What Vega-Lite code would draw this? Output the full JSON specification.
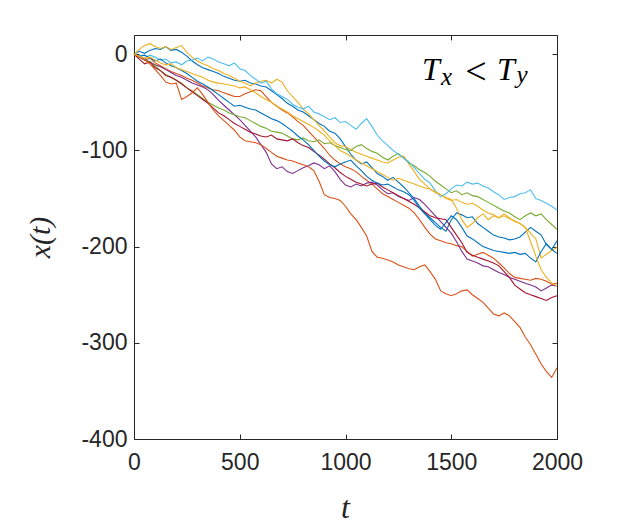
{
  "$schema": "https://vega.github.io/schema/vega-lite/v6.json",
  "width": 423,
  "height": 404,
  "autosize": "none",
  "padding": {"left": 134, "top": 35, "right": 60, "bottom": 84},
  "background": "white",
  "config": {
    "view": {"stroke": null},
    "axis": {
      "grid": false,
      "domainColor": "#262626",
      "domainWidth": 1,
      "tickColor": "#262626",
      "tickWidth": 1,
      "tickSize": -5,
      "labelFont": "Liberation Sans",
      "labelFontSize": 23,
      "labelColor": "#262626",
      "labelFlush": false,
      "labelOverlap": false,
      "titleFont": "Liberation Serif",
      "titleFontStyle": "italic",
      "titleFontWeight": "normal",
      "titleColor": "#262626"
    }
  },
  "resolve": {"axis": {"x": "independent", "y": "independent"}},
  "layer": [
    {
      "data": {
        "values": [
          {"t": 0, "r1": 0, "r2": 0, "r3": 0, "r4": 0, "r5": 0, "r6": 0, "r7": 0, "r8": 0, "r9": 0, "r10": 0},
          {"t": 25, "r1": 3, "r2": -2, "r3": 5, "r4": -3, "r5": -3, "r6": -2, "r7": -5, "r8": -2, "r9": -3, "r10": -2},
          {"t": 50, "r1": 1, "r2": -6, "r3": 9, "r4": -5, "r5": -6, "r6": -4, "r7": -10, "r8": -1, "r9": -6, "r10": -4},
          {"t": 75, "r1": 4, "r2": -4, "r3": 11, "r4": -8, "r5": -8, "r6": -1, "r7": -8, "r8": -4, "r9": -10, "r10": -3},
          {"t": 100, "r1": 6, "r2": -9, "r3": 8, "r4": -11, "r5": -12, "r6": -3, "r7": -14, "r8": -7, "r9": -16, "r10": -6},
          {"t": 125, "r1": 5, "r2": -12, "r3": 6, "r4": -13, "r5": -17, "r6": -6, "r7": -17, "r8": -5, "r9": -22, "r10": -9},
          {"t": 150, "r1": 8, "r2": -15, "r3": 8, "r4": -16, "r5": -21, "r6": -5, "r7": -22, "r8": -9, "r9": -29, "r10": -11},
          {"t": 175, "r1": 4, "r2": -18, "r3": 5, "r4": -19, "r5": -24, "r6": -9, "r7": -24, "r8": -12, "r9": -31, "r10": -10},
          {"t": 200, "r1": 5, "r2": -20, "r3": 7, "r4": -22, "r5": -27, "r6": -8, "r7": -27, "r8": -14, "r9": -30, "r10": -14},
          {"t": 225, "r1": 2, "r2": -22, "r3": 9, "r4": -24, "r5": -30, "r6": -11, "r7": -31, "r8": -17, "r9": -47, "r10": -16},
          {"t": 250, "r1": -2, "r2": -25, "r3": 2, "r4": -27, "r5": -35, "r6": -7, "r7": -35, "r8": -20, "r9": -44, "r10": -18},
          {"t": 275, "r1": -7, "r2": -27, "r3": -3, "r4": -30, "r5": -38, "r6": -6, "r7": -39, "r8": -24, "r9": -40, "r10": -20},
          {"t": 300, "r1": -11, "r2": -30, "r3": -7, "r4": -32, "r5": -42, "r6": -4, "r7": -43, "r8": -28, "r9": -35, "r10": -22},
          {"t": 325, "r1": -14, "r2": -33, "r3": -10, "r4": -34, "r5": -46, "r6": -7, "r7": -47, "r8": -31, "r9": -42, "r10": -24},
          {"t": 350, "r1": -16, "r2": -35, "r3": -12, "r4": -37, "r5": -50, "r6": -3, "r7": -51, "r8": -34, "r9": -50, "r10": -27},
          {"t": 375, "r1": -18, "r2": -37, "r3": -15, "r4": -42, "r5": -53, "r6": -5, "r7": -56, "r8": -38, "r9": -58, "r10": -29},
          {"t": 400, "r1": -20, "r2": -38, "r3": -17, "r4": -48, "r5": -56, "r6": -8, "r7": -61, "r8": -42, "r9": -64, "r10": -30},
          {"t": 425, "r1": -23, "r2": -40, "r3": -20, "r4": -53, "r5": -58, "r6": -10, "r7": -64, "r8": -46, "r9": -69, "r10": -31},
          {"t": 450, "r1": -25, "r2": -42, "r3": -22, "r4": -58, "r5": -61, "r6": -12, "r7": -68, "r8": -50, "r9": -74, "r10": -32},
          {"t": 475, "r1": -27, "r2": -44, "r3": -25, "r4": -63, "r5": -63, "r6": -9, "r7": -72, "r8": -54, "r9": -79, "r10": -33},
          {"t": 500, "r1": -28, "r2": -44, "r3": -28, "r4": -68, "r5": -65, "r6": -15, "r7": -75, "r8": -53, "r9": -86, "r10": -35},
          {"t": 525, "r1": -27, "r2": -41, "r3": -30, "r4": -74, "r5": -66, "r6": -17, "r7": -78, "r8": -55, "r9": -90, "r10": -34},
          {"t": 550, "r1": -30, "r2": -39, "r3": -33, "r4": -80, "r5": -69, "r6": -22, "r7": -81, "r8": -57, "r9": -91, "r10": -37},
          {"t": 575, "r1": -31, "r2": -37, "r3": -30, "r4": -86, "r5": -72, "r6": -26, "r7": -83, "r8": -58, "r9": -92, "r10": -40},
          {"t": 600, "r1": -33, "r2": -38, "r3": -28, "r4": -94, "r5": -75, "r6": -30, "r7": -85, "r8": -61, "r9": -94, "r10": -44},
          {"t": 625, "r1": -34, "r2": -44, "r3": -27, "r4": -102, "r5": -77, "r6": -28, "r7": -86, "r8": -64, "r9": -98, "r10": -47},
          {"t": 650, "r1": -38, "r2": -50, "r3": -30, "r4": -114, "r5": -80, "r6": -36, "r7": -84, "r8": -67, "r9": -102, "r10": -50},
          {"t": 675, "r1": -42, "r2": -54, "r3": -26, "r4": -119, "r5": -81, "r6": -41, "r7": -88, "r8": -69, "r9": -106, "r10": -54},
          {"t": 700, "r1": -46, "r2": -58, "r3": -29, "r4": -117, "r5": -82, "r6": -44, "r7": -89, "r8": -72, "r9": -108, "r10": -57},
          {"t": 725, "r1": -51, "r2": -61, "r3": -38, "r4": -122, "r5": -85, "r6": -47, "r7": -90, "r8": -76, "r9": -110, "r10": -60},
          {"t": 750, "r1": -54, "r2": -65, "r3": -44, "r4": -124, "r5": -88, "r6": -52, "r7": -88, "r8": -80, "r9": -111, "r10": -64},
          {"t": 775, "r1": -58, "r2": -70, "r3": -50, "r4": -121, "r5": -89, "r6": -55, "r7": -92, "r8": -85, "r9": -113, "r10": -67},
          {"t": 800, "r1": -60, "r2": -74, "r3": -57, "r4": -118, "r5": -87, "r6": -57, "r7": -95, "r8": -89, "r9": -115, "r10": -70},
          {"t": 825, "r1": -64, "r2": -80, "r3": -62, "r4": -116, "r5": -90, "r6": -54, "r7": -97, "r8": -94, "r9": -117, "r10": -73},
          {"t": 850, "r1": -68, "r2": -86, "r3": -68, "r4": -113, "r5": -91, "r6": -60, "r7": -101, "r8": -100, "r9": -121, "r10": -76},
          {"t": 875, "r1": -72, "r2": -92, "r3": -74, "r4": -115, "r5": -89, "r6": -62, "r7": -105, "r8": -106, "r9": -132, "r10": -80},
          {"t": 900, "r1": -75, "r2": -98, "r3": -80, "r4": -119, "r5": -93, "r6": -65, "r7": -109, "r8": -111, "r9": -146, "r10": -84},
          {"t": 925, "r1": -80, "r2": -105, "r3": -86, "r4": -116, "r5": -92, "r6": -68, "r7": -114, "r8": -115, "r9": -149, "r10": -90},
          {"t": 950, "r1": -82, "r2": -110, "r3": -92, "r4": -122, "r5": -95, "r6": -66, "r7": -118, "r8": -117, "r9": -150, "r10": -95},
          {"t": 975, "r1": -88, "r2": -114, "r3": -95, "r4": -130, "r5": -97, "r6": -71, "r7": -123, "r8": -114, "r9": -152, "r10": -100},
          {"t": 1000, "r1": -96, "r2": -117, "r3": -96, "r4": -136, "r5": -99, "r6": -70, "r7": -127, "r8": -112, "r9": -158, "r10": -103},
          {"t": 1025, "r1": -104, "r2": -119, "r3": -99, "r4": -138, "r5": -100, "r6": -74, "r7": -130, "r8": -110, "r9": -166, "r10": -106},
          {"t": 1050, "r1": -110, "r2": -122, "r3": -102, "r4": -135, "r5": -96, "r6": -78, "r7": -133, "r8": -116, "r9": -172, "r10": -110},
          {"t": 1075, "r1": -114, "r2": -127, "r3": -104, "r4": -137, "r5": -94, "r6": -72, "r7": -135, "r8": -121, "r9": -180, "r10": -113},
          {"t": 1100, "r1": -112, "r2": -131, "r3": -106, "r4": -134, "r5": -98, "r6": -67, "r7": -137, "r8": -127, "r9": -189, "r10": -116},
          {"t": 1125, "r1": -118, "r2": -135, "r3": -108, "r4": -133, "r5": -101, "r6": -75, "r7": -135, "r8": -131, "r9": -205, "r10": -119},
          {"t": 1150, "r1": -124, "r2": -140, "r3": -110, "r4": -136, "r5": -103, "r6": -84, "r7": -134, "r8": -134, "r9": -211, "r10": -122},
          {"t": 1175, "r1": -127, "r2": -145, "r3": -112, "r4": -141, "r5": -107, "r6": -90, "r7": -138, "r8": -136, "r9": -212, "r10": -125},
          {"t": 1200, "r1": -131, "r2": -148, "r3": -113, "r4": -145, "r5": -110, "r6": -95, "r7": -141, "r8": -135, "r9": -214, "r10": -128},
          {"t": 1225, "r1": -128, "r2": -151, "r3": -110, "r4": -144, "r5": -106, "r6": -100, "r7": -144, "r8": -138, "r9": -216, "r10": -131},
          {"t": 1250, "r1": -133, "r2": -154, "r3": -107, "r4": -148, "r5": -103, "r6": -104, "r7": -147, "r8": -141, "r9": -219, "r10": -129},
          {"t": 1275, "r1": -138, "r2": -157, "r3": -106, "r4": -150, "r5": -108, "r6": -108, "r7": -150, "r8": -143, "r9": -221, "r10": -131},
          {"t": 1300, "r1": -144, "r2": -160, "r3": -114, "r4": -152, "r5": -113, "r6": -112, "r7": -153, "r8": -146, "r9": -223, "r10": -133},
          {"t": 1325, "r1": -150, "r2": -165, "r3": -122, "r4": -149, "r5": -116, "r6": -118, "r7": -156, "r8": -152, "r9": -224, "r10": -135},
          {"t": 1350, "r1": -158, "r2": -172, "r3": -130, "r4": -151, "r5": -120, "r6": -124, "r7": -160, "r8": -160, "r9": -221, "r10": -137},
          {"t": 1375, "r1": -165, "r2": -180, "r3": -135, "r4": -156, "r5": -123, "r6": -130, "r7": -164, "r8": -166, "r9": -219, "r10": -139},
          {"t": 1400, "r1": -170, "r2": -187, "r3": -140, "r4": -162, "r5": -127, "r6": -134, "r7": -168, "r8": -172, "r9": -226, "r10": -140},
          {"t": 1425, "r1": -175, "r2": -192, "r3": -144, "r4": -168, "r5": -132, "r6": -142, "r7": -170, "r8": -178, "r9": -234, "r10": -143},
          {"t": 1450, "r1": -180, "r2": -194, "r3": -146, "r4": -174, "r5": -136, "r6": -148, "r7": -171, "r8": -182, "r9": -246, "r10": -146},
          {"t": 1475, "r1": -184, "r2": -196, "r3": -149, "r4": -180, "r5": -140, "r6": -145, "r7": -172, "r8": -175, "r9": -249, "r10": -150},
          {"t": 1500, "r1": -172, "r2": -197, "r3": -151, "r4": -186, "r5": -144, "r6": -140, "r7": -180, "r8": -168, "r9": -251, "r10": -152},
          {"t": 1525, "r1": -165, "r2": -199, "r3": -160, "r4": -195, "r5": -142, "r6": -136, "r7": -188, "r8": -172, "r9": -249, "r10": -151},
          {"t": 1550, "r1": -167, "r2": -200, "r3": -172, "r4": -205, "r5": -146, "r6": -137, "r7": -196, "r8": -180, "r9": -246, "r10": -154},
          {"t": 1575, "r1": -170, "r2": -205, "r3": -180, "r4": -213, "r5": -144, "r6": -133, "r7": -206, "r8": -189, "r9": -245, "r10": -156},
          {"t": 1600, "r1": -169, "r2": -210, "r3": -176, "r4": -215, "r5": -147, "r6": -135, "r7": -209, "r8": -192, "r9": -250, "r10": -155},
          {"t": 1625, "r1": -176, "r2": -208, "r3": -170, "r4": -217, "r5": -148, "r6": -134, "r7": -211, "r8": -196, "r9": -254, "r10": -158},
          {"t": 1650, "r1": -180, "r2": -206, "r3": -166, "r4": -220, "r5": -151, "r6": -137, "r7": -213, "r8": -200, "r9": -258, "r10": -162},
          {"t": 1675, "r1": -184, "r2": -209, "r3": -172, "r4": -221, "r5": -154, "r6": -139, "r7": -215, "r8": -202, "r9": -264, "r10": -165},
          {"t": 1700, "r1": -188, "r2": -212, "r3": -168, "r4": -224, "r5": -157, "r6": -143, "r7": -217, "r8": -204, "r9": -270, "r10": -167},
          {"t": 1725, "r1": -190, "r2": -217, "r3": -170, "r4": -227, "r5": -160, "r6": -146, "r7": -220, "r8": -205, "r9": -272, "r10": -170},
          {"t": 1750, "r1": -191, "r2": -222, "r3": -166, "r4": -229, "r5": -163, "r6": -151, "r7": -226, "r8": -206, "r9": -269, "r10": -168},
          {"t": 1775, "r1": -193, "r2": -228, "r3": -170, "r4": -232, "r5": -165, "r6": -149, "r7": -232, "r8": -207, "r9": -272, "r10": -171},
          {"t": 1800, "r1": -192, "r2": -232, "r3": -174, "r4": -234, "r5": -169, "r6": -148, "r7": -240, "r8": -206, "r9": -278, "r10": -173},
          {"t": 1825, "r1": -190, "r2": -233, "r3": -176, "r4": -236, "r5": -172, "r6": -145, "r7": -244, "r8": -208, "r9": -284, "r10": -176},
          {"t": 1850, "r1": -185, "r2": -234, "r3": -180, "r4": -238, "r5": -168, "r6": -144, "r7": -248, "r8": -207, "r9": -294, "r10": -180},
          {"t": 1875, "r1": -180, "r2": -235, "r3": -186, "r4": -240, "r5": -165, "r6": -141, "r7": -250, "r8": -212, "r9": -302, "r10": -195},
          {"t": 1900, "r1": -184, "r2": -233, "r3": -192, "r4": -242, "r5": -168, "r6": -150, "r7": -252, "r8": -216, "r9": -312, "r10": -210},
          {"t": 1925, "r1": -188, "r2": -234, "r3": -212, "r4": -246, "r5": -166, "r6": -152, "r7": -254, "r8": -205, "r9": -322, "r10": -224},
          {"t": 1950, "r1": -198, "r2": -236, "r3": -208, "r4": -243, "r5": -172, "r6": -155, "r7": -256, "r8": -197, "r9": -330, "r10": -232},
          {"t": 1975, "r1": -203, "r2": -239, "r3": -204, "r4": -240, "r5": -177, "r6": -158, "r7": -253, "r8": -203, "r9": -336, "r10": -238},
          {"t": 2000, "r1": -194, "r2": -238, "r3": -201, "r4": -241, "r5": -182, "r6": -162, "r7": -251, "r8": -207, "r9": -326, "r10": -241}
        ]
      },
      "transform": [
        {"fold": ["r1", "r2", "r3", "r4", "r5", "r6", "r7", "r8", "r9", "r10"], "as": ["run", "v"]}
      ],
      "mark": {"type": "line", "strokeWidth": 1.1},
      "encoding": {
        "x": {
          "field": "t",
          "type": "quantitative",
          "scale": {"domain": [0, 2000], "nice": false},
          "axis": {
            "orient": "bottom",
            "values": [0, 500, 1000, 1500, 2000],
            "labelExpr": "'' + datum.value",
            "labelPadding": 17,
            "labelBaseline": "top",
            "title": "t",
            "titleFontSize": 32,
            "titleX": 211,
            "titleY": 78,
            "titleAlign": "center",
            "titleBaseline": "alphabetic"
          }
        },
        "y": {
          "field": "v",
          "type": "quantitative",
          "scale": {"domain": [-400, 20], "nice": false, "zero": false},
          "axis": {
            "orient": "left",
            "values": [-400, -300, -200, -100, 0],
            "labelExpr": "'' + datum.value",
            "labelPadding": 12,
            "title": "x(t)",
            "titleFontSize": 30,
            "titleAngle": -90,
            "titleX": -94,
            "titleY": 202,
            "titleAlign": "center",
            "titleBaseline": "middle"
          }
        },
        "color": {
          "field": "run",
          "type": "nominal",
          "scale": {
            "domain": ["r1", "r2", "r3", "r4", "r5", "r6", "r7", "r8", "r9", "r10"],
            "range": ["#0072BD", "#D95319", "#EDB120", "#7E2F8E", "#77AC30", "#4DBEEE", "#A2142F", "#0072BD", "#D95319", "#EDB120"]
          },
          "legend": null
        }
      }
    },
    {
      "data": {"values": [{}]},
      "mark": {"type": "text", "text": "T", "font": "Liberation Serif", "fontStyle": "italic", "fontSize": 32, "align": "left", "baseline": "alphabetic", "color": "black"},
      "encoding": {
        "x": {"datum": 1362, "type": "quantitative", "axis": {"orient": "top", "values": [0, 500, 1000, 1500, 2000], "labels": false, "title": null}},
        "y": {"datum": -27, "type": "quantitative", "axis": {"orient": "right", "values": [-400, -300, -200, -100, 0], "labels": false, "title": null}}
      }
    },
    {
      "data": {"values": [{}]},
      "mark": {"type": "text", "text": "x", "font": "Liberation Serif", "fontStyle": "italic", "fontSize": 25, "align": "left", "baseline": "alphabetic", "color": "black"},
      "encoding": {
        "x": {"datum": 1452, "type": "quantitative", "axis": null},
        "y": {"datum": -32, "type": "quantitative", "axis": null}
      }
    },
    {
      "data": {"values": [{}]},
      "mark": {"type": "text", "text": "<", "font": "Liberation Serif", "fontSize": 38, "align": "left", "baseline": "alphabetic", "color": "black"},
      "encoding": {
        "x": {"datum": 1566, "type": "quantitative", "axis": null},
        "y": {"datum": -31, "type": "quantitative", "axis": null}
      }
    },
    {
      "data": {"values": [{}]},
      "mark": {"type": "text", "text": "T", "font": "Liberation Serif", "fontStyle": "italic", "fontSize": 32, "align": "left", "baseline": "alphabetic", "color": "black"},
      "encoding": {
        "x": {"datum": 1716, "type": "quantitative", "axis": null},
        "y": {"datum": -27, "type": "quantitative", "axis": null}
      }
    },
    {
      "data": {"values": [{}]},
      "mark": {"type": "text", "text": "y", "font": "Liberation Serif", "fontStyle": "italic", "fontSize": 25, "align": "left", "baseline": "alphabetic", "color": "black"},
      "encoding": {
        "x": {"datum": 1808, "type": "quantitative", "axis": null},
        "y": {"datum": -30, "type": "quantitative", "axis": null}
      }
    }
  ]
}
